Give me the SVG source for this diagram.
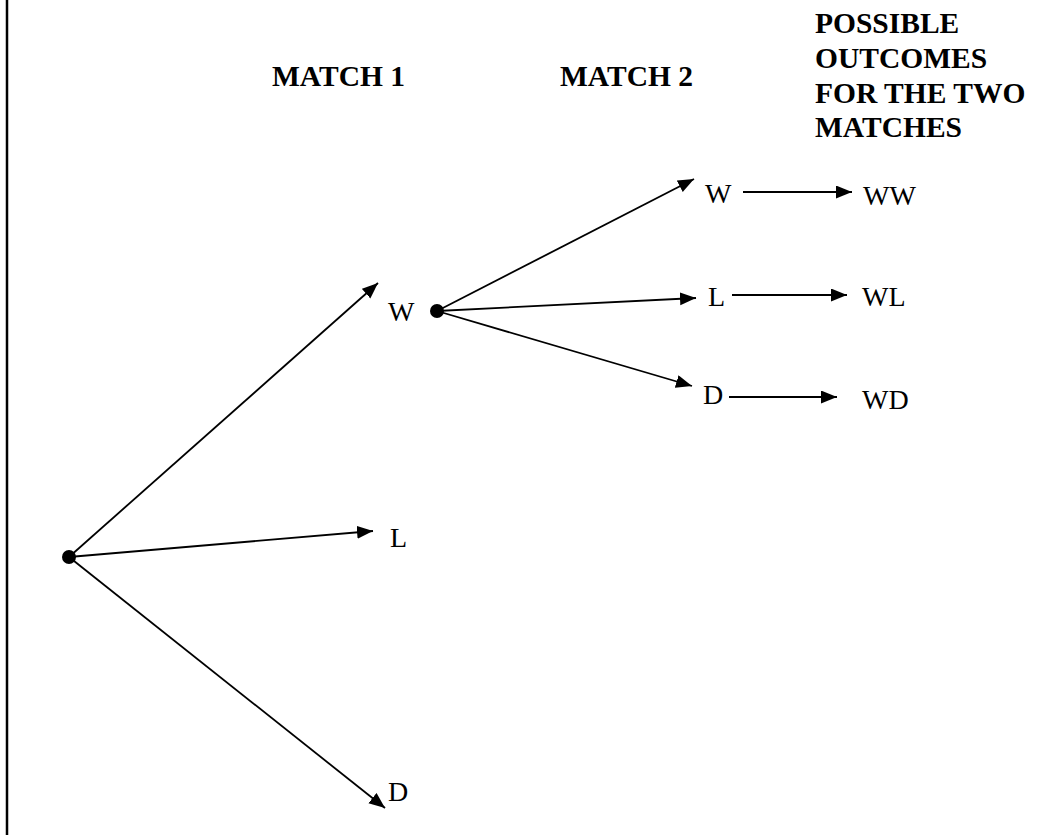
<svg xmlns="http://www.w3.org/2000/svg" width="1062" height="835" viewBox="0 0 1062 835">
<style>
.h{font-family:"Liberation Serif","Times New Roman",serif;font-weight:bold;font-size:29.5px;fill:#000}
.t{font-family:"Liberation Serif","Times New Roman",serif;font-size:28px;fill:#000}
.c{stroke:#000;stroke-width:1.8;fill:none;marker-end:url(#ah)}
</style>
<defs>
<marker id="ah" markerUnits="userSpaceOnUse" markerWidth="18" markerHeight="14" refX="16" refY="6.5" orient="auto">
<path d="M0,0 L16,6.5 L0,13 z" fill="#000"/>
</marker>
</defs>
<rect width="1062" height="835" fill="#fff"/>
<line x1="7" y1="0" x2="7" y2="835" stroke="#000" stroke-width="2.5"/>
<g id="headers">
<text class="h" x="272" y="86">MATCH 1</text>
<text class="h" x="560" y="86">MATCH 2</text>
<text class="h" x="815" y="33">POSSIBLE</text>
<text class="h" x="815" y="68">OUTCOMES</text>
<text class="h" x="815" y="103">FOR THE TWO</text>
<text class="h" x="815" y="137">MATCHES</text>
</g>
<g id="connectors">
<line class="c" x1="69" y1="557" x2="378" y2="283"/>
<line class="c" x1="69" y1="557" x2="373" y2="531"/>
<line class="c" x1="69" y1="557" x2="385" y2="808"/>
<line class="c" x1="437" y1="311" x2="694" y2="179"/>
<line class="c" x1="437" y1="311" x2="696" y2="298"/>
<line class="c" x1="437" y1="311" x2="692" y2="386"/>
<line class="c" x1="743" y1="192" x2="852" y2="192"/>
<line class="c" x1="732" y1="295" x2="847" y2="295"/>
<line class="c" x1="729" y1="397" x2="837" y2="397"/>
</g>
<g id="root"><circle cx="69" cy="557" r="7" fill="#000"/></g>
<g id="m1-w"><text class="t" x="388" y="321">W</text><circle cx="437" cy="311" r="7" fill="#000"/></g>
<g id="m1-l"><text class="t" x="390" y="547">L</text></g>
<g id="m1-d"><text class="t" x="388" y="801">D</text></g>
<g id="m2-w"><text class="t" x="705" y="203">W</text></g>
<g id="m2-l"><text class="t" x="708" y="306">L</text></g>
<g id="m2-d"><text class="t" x="703" y="404">D</text></g>
<g id="o-ww"><text class="t" x="863" y="205">WW</text></g>
<g id="o-wl"><text class="t" x="862" y="306">WL</text></g>
<g id="o-wd"><text class="t" x="862" y="409">WD</text></g>
</svg>
